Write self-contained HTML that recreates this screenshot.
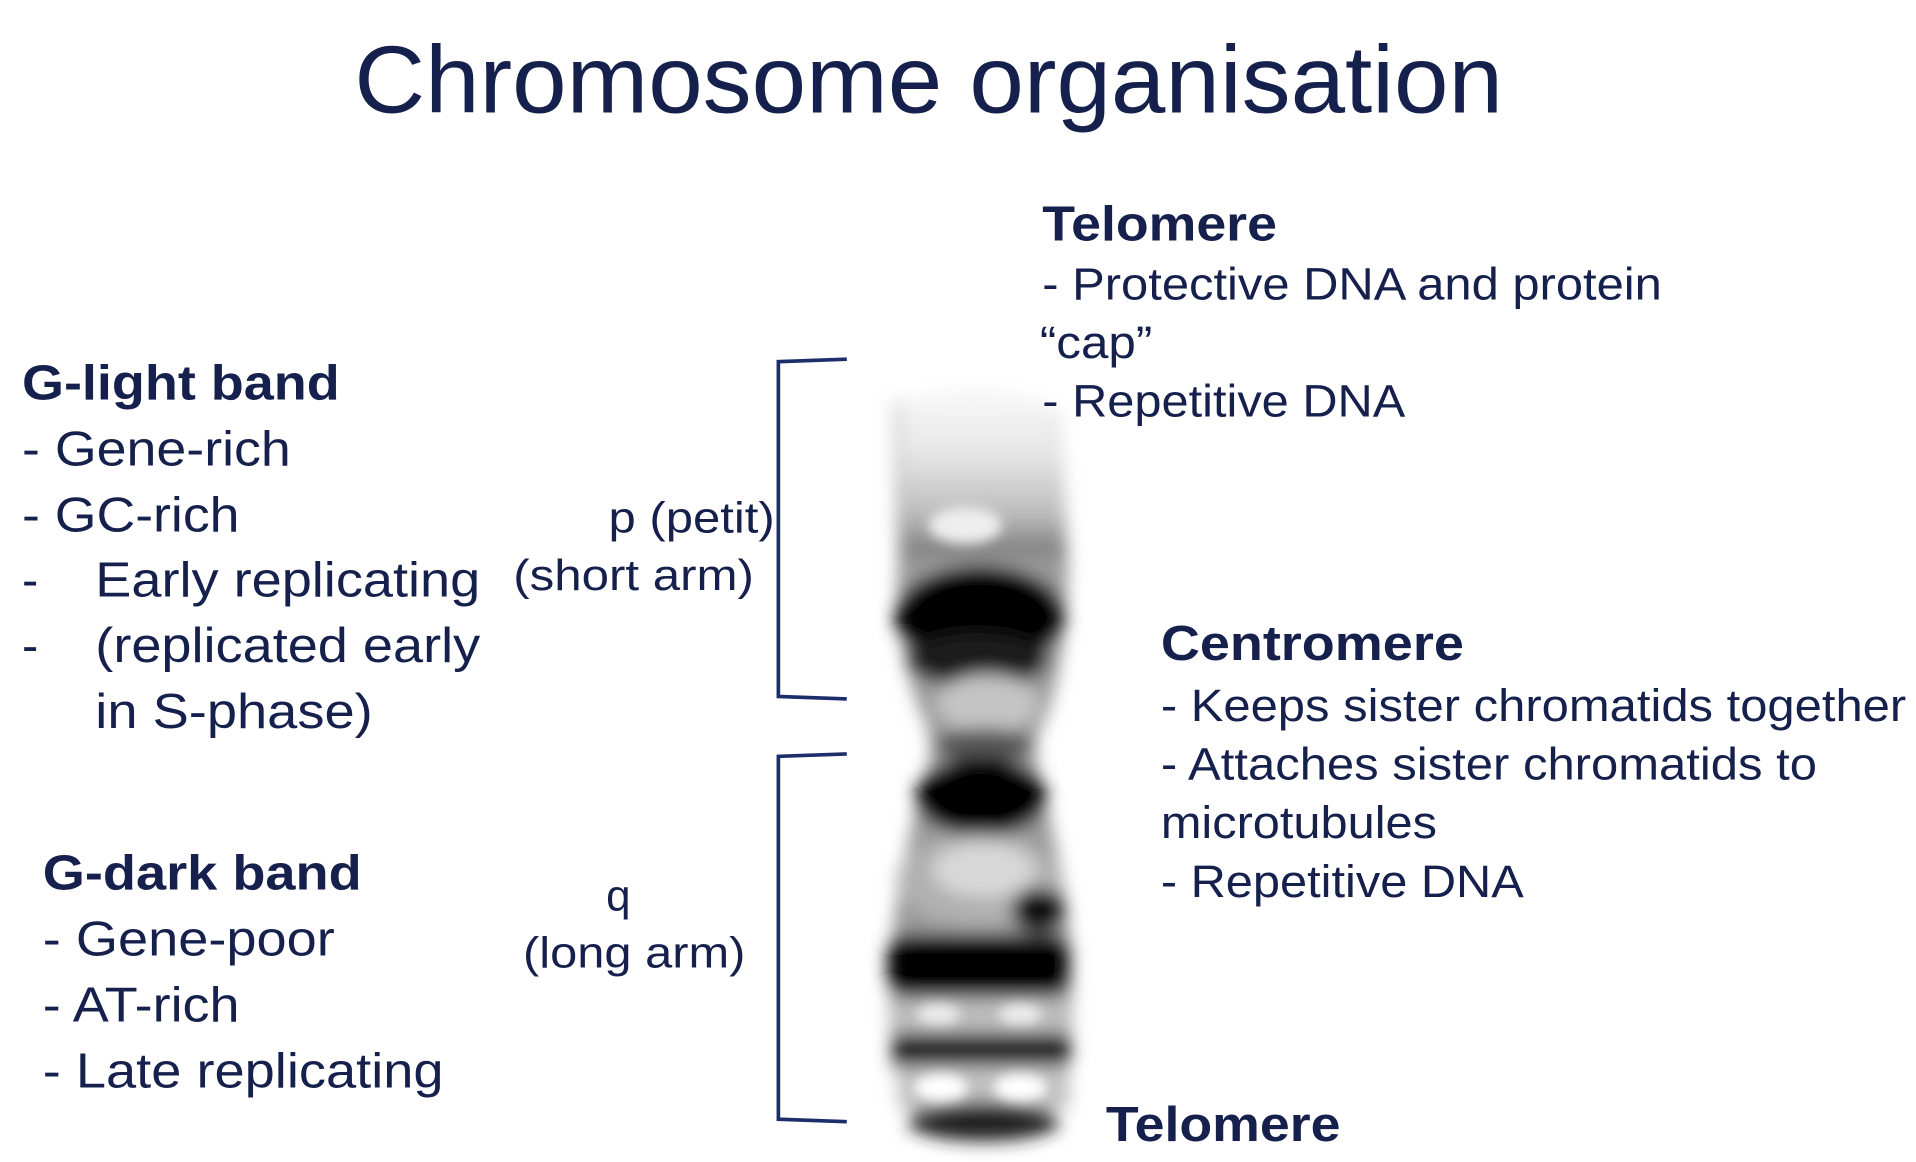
<!DOCTYPE html>
<html><head><meta charset="utf-8"><style>
html,body{margin:0;padding:0;background:#fff;overflow:hidden}
svg{display:block}
text{font-family:"Liberation Sans",Arial,sans-serif;fill:#16204c}
.b{font-weight:bold}
</style></head><body>
<svg width="1916" height="1162" viewBox="0 0 1568 951" preserveAspectRatio="none" xmlns="http://www.w3.org/2000/svg">
<defs>
<filter id="bl" x="-30%" y="-30%" width="160%" height="160%"><feGaussianBlur stdDeviation="7"/></filter>
<filter id="bl2" x="-30%" y="-30%" width="160%" height="160%"><feGaussianBlur stdDeviation="5"/></filter>
<linearGradient id="tg" x1="0" y1="0" x2="0" y2="1">
<stop offset="0" stop-color="#fafafa"/><stop offset="0.4" stop-color="#e6e6e6"/><stop offset="0.75" stop-color="#bdbdbd"/><stop offset="1" stop-color="#777"/>
</linearGradient>
</defs>
<rect width="1568" height="951" fill="#fff"/>
<text x="290" y="92" font-size="78" textLength="940" lengthAdjust="spacingAndGlyphs">Chromosome organisation</text>

<!-- chromosome -->
<g filter="url(#bl)">
<path d="M732 330 Q800 305 866 335 L874 460 Q872 560 850 600 Q845 612 852 640 Q868 700 876 770 Q880 860 870 900 Q830 935 770 930 Q735 910 730 860 Q724 790 735 730 Q748 660 760 625 Q765 605 752 580 Q730 520 735 460 Z" fill="#9a9a9a"/>
<path d="M735 330 Q800 300 865 335 L872 455 L738 455 Z" fill="url(#tg)"/>
<ellipse cx="802" cy="505" rx="70" ry="42" fill="#000"/>
<ellipse cx="800" cy="540" rx="58" ry="22" fill="#1a1a1a"/>
<ellipse cx="808" cy="576" rx="42" ry="24" fill="#c4c4c4"/>
<ellipse cx="805" cy="610" rx="40" ry="14" fill="#555"/>
<ellipse cx="803" cy="652" rx="54" ry="32" fill="#000"/>
<ellipse cx="800" cy="720" rx="66" ry="38" fill="#b0b0b0"/>
<ellipse cx="805" cy="712" rx="42" ry="22" fill="#d8d8d8"/>
<ellipse cx="850" cy="745" rx="22" ry="18" fill="#111"/>
<rect x="726" y="765" width="150" height="50" rx="15" fill="#000"/>
<rect x="730" y="818" width="145" height="28" fill="#bbb"/>
<rect x="730" y="846" width="146" height="26" fill="#222"/>
<rect x="735" y="872" width="140" height="35" fill="#c0c0c0"/>
<ellipse cx="805" cy="918" rx="62" ry="16" fill="#222"/>
</g>
<g filter="url(#bl2)">
<ellipse cx="770" cy="890" rx="22" ry="11" fill="#fff"/>
<ellipse cx="835" cy="890" rx="22" ry="11" fill="#fff"/>
<ellipse cx="768" cy="830" rx="18" ry="8" fill="#eee"/>
<ellipse cx="835" cy="830" rx="18" ry="8" fill="#eee"/>
<ellipse cx="790" cy="430" rx="30" ry="15" fill="#eee"/>
</g>

<!-- brackets -->
<g fill="none" stroke="#1c2e6a" stroke-width="3">
<path d="M693 294 L637 296 L637 570 L693 572"/>
<path d="M693 617 L637 619 L637 916 L693 918"/>
</g>

<text class="b" x="853" y="197" font-size="40" textLength="192" lengthAdjust="spacingAndGlyphs">Telomere</text>
<text x="853" y="245" font-size="37" textLength="507" lengthAdjust="spacingAndGlyphs">- Protective DNA and protein</text>
<text x="851" y="293" font-size="37" textLength="92" lengthAdjust="spacingAndGlyphs">“cap”</text>
<text x="853" y="341" font-size="37" textLength="297" lengthAdjust="spacingAndGlyphs">- Repetitive DNA</text>

<text class="b" x="18" y="327" font-size="40" textLength="260" lengthAdjust="spacingAndGlyphs">G-light band</text>
<text x="18" y="381" font-size="40" textLength="220" lengthAdjust="spacingAndGlyphs">- Gene-rich</text>
<text x="18" y="435" font-size="40" textLength="178" lengthAdjust="spacingAndGlyphs">- GC-rich</text>
<text x="18" y="488" font-size="40">-</text>
<text x="78" y="488" font-size="40" textLength="315" lengthAdjust="spacingAndGlyphs">Early replicating</text>
<text x="18" y="542" font-size="40">-</text>
<text x="78" y="542" font-size="40" textLength="315" lengthAdjust="spacingAndGlyphs">(replicated early</text>
<text x="78" y="596" font-size="40" textLength="227" lengthAdjust="spacingAndGlyphs">in S-phase)</text>

<text x="498" y="436" font-size="36" textLength="136" lengthAdjust="spacingAndGlyphs">p (petit)</text>
<text x="420" y="483" font-size="36" textLength="197" lengthAdjust="spacingAndGlyphs">(short arm)</text>

<text class="b" x="950" y="540" font-size="40" textLength="248" lengthAdjust="spacingAndGlyphs">Centromere</text>
<text x="950" y="590" font-size="37" textLength="610" lengthAdjust="spacingAndGlyphs">- Keeps sister chromatids together</text>
<text x="950" y="638" font-size="37" textLength="537" lengthAdjust="spacingAndGlyphs">- Attaches sister chromatids to</text>
<text x="950" y="686" font-size="37" textLength="226" lengthAdjust="spacingAndGlyphs">microtubules</text>
<text x="950" y="734" font-size="37" textLength="297" lengthAdjust="spacingAndGlyphs">- Repetitive DNA</text>

<text class="b" x="35" y="728" font-size="40" textLength="261" lengthAdjust="spacingAndGlyphs">G-dark band</text>
<text x="35" y="782" font-size="40" textLength="239" lengthAdjust="spacingAndGlyphs">- Gene-poor</text>
<text x="35" y="836" font-size="40" textLength="161" lengthAdjust="spacingAndGlyphs">- AT-rich</text>
<text x="35" y="890" font-size="40" textLength="328" lengthAdjust="spacingAndGlyphs">- Late replicating</text>

<text x="496" y="745" font-size="36">q</text>
<text x="428" y="792" font-size="36" textLength="182" lengthAdjust="spacingAndGlyphs">(long arm)</text>

<text class="b" x="905" y="934" font-size="40" textLength="192" lengthAdjust="spacingAndGlyphs">Telomere</text>
</svg>
</body></html>
